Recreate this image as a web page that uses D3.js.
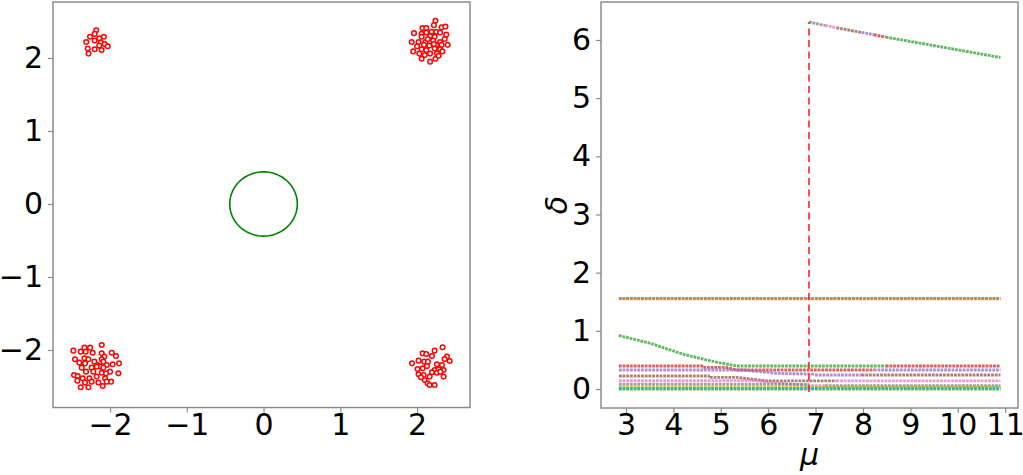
<!DOCTYPE html>
<html>
<head>
<meta charset="utf-8">
<script src="https://cdn.jsdelivr.net/npm/d3@7"></script>
<style>
  html, body { margin: 0; padding: 0; background: #fff; }
  svg { display: block; font-family: "DejaVu Sans", sans-serif; }
</style>
</head>
<body>
<svg id="chart" width="1023" height="475"></svg>
<script>
// ---------------- DATA ----------------
// Left panel: sample points (four clusters) and circle
const clusterTopLeft = [[-2.18,2.38],[-2.20,2.33],[-2.26,2.29],[-2.14,2.27],[-2.08,2.29],[-2.31,2.22],[-2.20,2.24],[-2.12,2.21],[-2.07,2.19],[-2.03,2.16],[-2.14,2.17],[-2.29,2.13],[-2.20,2.12],[-2.11,2.11],[-2.28,2.06]];
const clusterTopRight = [[2.24,2.51],[2.22,2.45],[2.07,2.41],[2.12,2.41],[2.32,2.42],[2.37,2.43],[1.96,2.34],[2.06,2.33],[2.12,2.35],[2.19,2.36],[2.25,2.36],[2.30,2.35],[2.38,2.32],[2.06,2.29],[2.17,2.30],[2.23,2.29],[1.93,2.22],[2.02,2.22],[2.11,2.22],[2.21,2.24],[2.30,2.22],[2.36,2.26],[2.00,2.16],[2.09,2.18],[2.16,2.17],[2.25,2.18],[2.32,2.18],[2.40,2.18],[2.06,2.12],[2.12,2.11],[2.23,2.13],[2.30,2.12],[1.95,2.09],[2.03,2.06],[2.10,2.04],[2.17,2.06],[2.26,2.06],[2.33,2.09],[2.06,1.99],[2.24,1.99],[2.17,1.95],[2.28,2.03],[2.22,2.19],[2.14,2.26]];
const clusterBottomLeft = [[-2.108,-1.931],[-2.334,-1.968],[-2.260,-1.968],[-2.478,-2.009],[-2.382,-2.023],[-2.317,-2.023],[-2.226,-2.037],[-2.108,-2.046],[-1.978,-2.037],[-2.074,-2.091],[-1.922,-2.082],[-2.456,-2.128],[-2.334,-2.114],[-2.282,-2.128],[-2.204,-2.160],[-2.108,-2.128],[-2.400,-2.173],[-2.326,-2.183],[-2.165,-2.205],[-2.130,-2.228],[-2.043,-2.205],[-1.965,-2.196],[-1.882,-2.183],[-2.369,-2.242],[-2.239,-2.242],[-2.087,-2.242],[-2.000,-2.297],[-2.313,-2.297],[-2.217,-2.297],[-2.469,-2.342],[-2.421,-2.356],[-2.108,-2.311],[-2.052,-2.320],[-1.891,-2.320],[-2.356,-2.388],[-2.269,-2.388],[-2.174,-2.365],[-2.065,-2.388],[-1.987,-2.434],[-2.426,-2.420],[-2.326,-2.447],[-2.239,-2.434],[-2.152,-2.447],[-2.043,-2.434],[-2.382,-2.511],[-2.282,-2.511],[-2.095,-2.493],[-2.087,-2.160],[-2.174,-2.228]];
const clusterBottomRight = [[2.333,-1.963],[2.229,-2.009],[2.073,-2.046],[2.120,-2.055],[2.194,-2.082],[2.390,-2.091],[2.425,-2.151],[2.359,-2.123],[1.934,-2.183],[2.020,-2.146],[2.094,-2.160],[2.142,-2.160],[2.259,-2.196],[2.325,-2.205],[2.007,-2.260],[2.073,-2.251],[2.229,-2.274],[2.281,-2.265],[2.346,-2.274],[2.194,-2.306],[2.129,-2.219],[2.020,-2.333],[2.086,-2.342],[2.164,-2.365],[2.259,-2.311],[2.346,-2.365],[2.099,-2.411],[2.138,-2.457],[2.164,-2.480],[2.229,-2.480],[2.051,-2.374],[2.303,-2.297]];
const circleCenter = [0, 0];
const circleRadius = 0.44;
const leftXTicks = [-2, -1, 0, 1, 2];
const leftYTicks = [-2, -1, 0, 1, 2];

// Right panel: delta vs mu, one array per colour (null = break)
const seriesBlue   = [[2.85,1.555],[10.9,1.555]];
const seriesOrange = [[2.85,1.55],[10.9,1.55]];
const seriesGreen  = [[2.85,0.92],[3.5,0.79],[4.2,0.60],[4.8,0.48],[5.34,0.395],[8.48,0.395],null,[8.48,6.05],[10.9,5.70]];
const seriesRed    = [[2.85,0.395],[4.63,0.395],null,[4.63,0.373],[5.09,0.373],[5.36,0.326],[8.23,0.326],null,[8.23,6.09],[8.48,6.05],null,[8.48,0.395],[10.9,0.395]];
const seriesPurple = [[2.85,0.326],[5.47,0.326],[6.18,0.27],[6.99,0.255],null,[6.99,0.24],[7.97,0.24],null,[7.97,6.13],[8.23,6.09],null,[8.23,0.326],[10.9,0.326]];
const seriesBrown  = [[2.85,0.223],[4.77,0.223],null,[4.77,0.20],[5.34,0.20],[5.97,0.14],[7.44,0.14],null,[7.44,6.21],[7.97,6.13],null,[7.97,0.24],[10.9,0.24]];
const seriesPink   = [[2.85,0.143],[5.69,0.143],[6.86,0.057],[7.2,0.057],null,[7.2,6.25],[7.44,6.21],null,[7.44,0.14],[10.9,0.14]];
const seriesGrey   = [[2.85,0.08],[6.86,0.08],null,[6.86,6.31],[7.2,6.25],null,[7.2,0.057],[10.9,0.057]];
const seriesOlive  = [[2.85,0.035],[10.9,0.035]];
const seriesCyan   = [[2.85,0.012],[10.9,0.012]];
const seriesGreen2 = [[2.85,0.0],[10.9,0.0]];
const criticalMu = 6.86;
const criticalSpan = [-0.05, 6.31];
const rightXTicks = [3, 4, 5, 6, 7, 8, 9, 10, 11];
const rightYTicks = [0, 1, 2, 3, 4, 5, 6];

// ---------------- DRAW ----------------
const svg = d3.select("#chart");
const FONT = 30;
const spineColor = "#8c8c8c";

function fmt(v) { return v < 0 ? "\u2212" + Math.abs(v) : String(v); }

function frame(g, x0, x1, y0, y1) {
  g.append("rect").attr("x", x0).attr("y", y0).attr("width", x1 - x0).attr("height", y1 - y0)
    .attr("fill", "none").attr("stroke", spineColor).attr("stroke-width", 1.5);
}

function axes(g, xs, ys, xt, yt, y1, x0) {
  const ax = g.append("g").attr("transform", `translate(0,${y1})`)
    .call(d3.axisBottom(xs).tickValues(xt).tickFormat(fmt).tickSize(5).tickPadding(1));
  const ay = g.append("g").attr("transform", `translate(${x0},0)`)
    .call(d3.axisLeft(ys).tickValues(yt).tickFormat(fmt).tickSize(5).tickPadding(5));
  [ax, ay].forEach(a => {
    a.select(".domain").remove();
    a.selectAll("line").attr("stroke", spineColor).attr("stroke-width", 1.2);
    a.selectAll("text").attr("font-size", FONT).attr("fill", "#000")
      .attr("font-family", "DejaVu Sans, sans-serif");
  });
}

// Left panel
const L = { x0: 53, x1: 470, y0: 2, y1: 407.5 };
const lx = d3.scaleLinear().domain([-2.743, 2.69]).range([L.x0, L.x1]);
const ly = d3.scaleLinear().domain([-2.788, 2.767]).range([L.y1, L.y0]);
const gl = svg.append("g");
axes(gl, lx, ly, leftXTicks, leftYTicks, L.y1, L.x0);

const circ = d3.range(0, 361, 3).map(a => [circleCenter[0] + circleRadius * Math.cos(a * Math.PI / 180),
                                            circleCenter[1] + circleRadius * Math.sin(a * Math.PI / 180)]);
gl.append("path").datum(circ)
  .attr("d", d3.line().x(d => lx(d[0])).y(d => ly(d[1])))
  .attr("fill", "none").attr("stroke", "#008000").attr("stroke-width", 1.6);

const allPts = [].concat(clusterTopLeft, clusterTopRight, clusterBottomLeft, clusterBottomRight);
gl.selectAll("circle.pt").data(allPts).enter().append("circle")
  .attr("class", "pt")
  .attr("cx", d => lx(d[0])).attr("cy", d => ly(d[1])).attr("r", 2.3)
  .attr("fill", "#fff").attr("stroke", "#ff0000").attr("stroke-width", 1.5);
frame(gl, L.x0, L.x1, L.y0, L.y1);

// Right panel
const R = { x0: 601, x1: 1018, y0: 2, y1: 408 };
const rx = d3.scaleLinear().domain([2.473, 11.27]).range([R.x0, R.x1]);
const ry = d3.scaleLinear().domain([-0.326, 6.653]).range([R.y1, R.y0]);
const gr = svg.append("g");
axes(gr, rx, ry, rightXTicks, rightYTicks, R.y1, R.x0);

const lineGen = d3.line().defined(d => d !== null).x(d => rx(d[0])).y(d => ry(d[1]));
const seriesList = [
  [seriesBlue, "#1f77b4"], [seriesOrange, "#ff7f0e"], [seriesGreen, "#2ca02c"],
  [seriesRed, "#d62728"], [seriesPurple, "#9467bd"], [seriesBrown, "#8c564b"],
  [seriesPink, "#e377c2"], [seriesGrey, "#7f7f7f"], [seriesOlive, "#bcbd22"],
  [seriesGreen2, "#2ca02c"], [seriesCyan, "#17becf"]
];
seriesList.forEach(([data, color]) => {
  gr.append("path").datum(data).attr("d", lineGen)
    .attr("fill", "none").attr("stroke", color).attr("stroke-width", 2.9)
    .attr("stroke-opacity", 0.75).attr("stroke-dasharray", "2.8,0.9");
});

gr.append("line")
  .attr("x1", rx(criticalMu)).attr("x2", rx(criticalMu))
  .attr("y1", ry(criticalSpan[0])).attr("y2", ry(criticalSpan[1]))
  .attr("stroke", "#ff2a2a").attr("stroke-opacity", 0.85).attr("stroke-width", 2)
  .attr("stroke-dasharray", "7,4.5");
frame(gr, R.x0, R.x1, R.y0, R.y1);

// axis labels
svg.append("text").attr("x", (R.x0 + R.x1) / 2).attr("y", 465).attr("text-anchor", "middle")
  .attr("font-size", FONT).attr("font-style", "italic").text("\u03bc");
svg.append("text").attr("transform", `translate(567,${(R.y0 + R.y1) / 2}) rotate(-90)`)
  .attr("text-anchor", "middle").attr("font-size", FONT).attr("font-style", "italic").text("\u03b4");
</script>
</body>
</html>
